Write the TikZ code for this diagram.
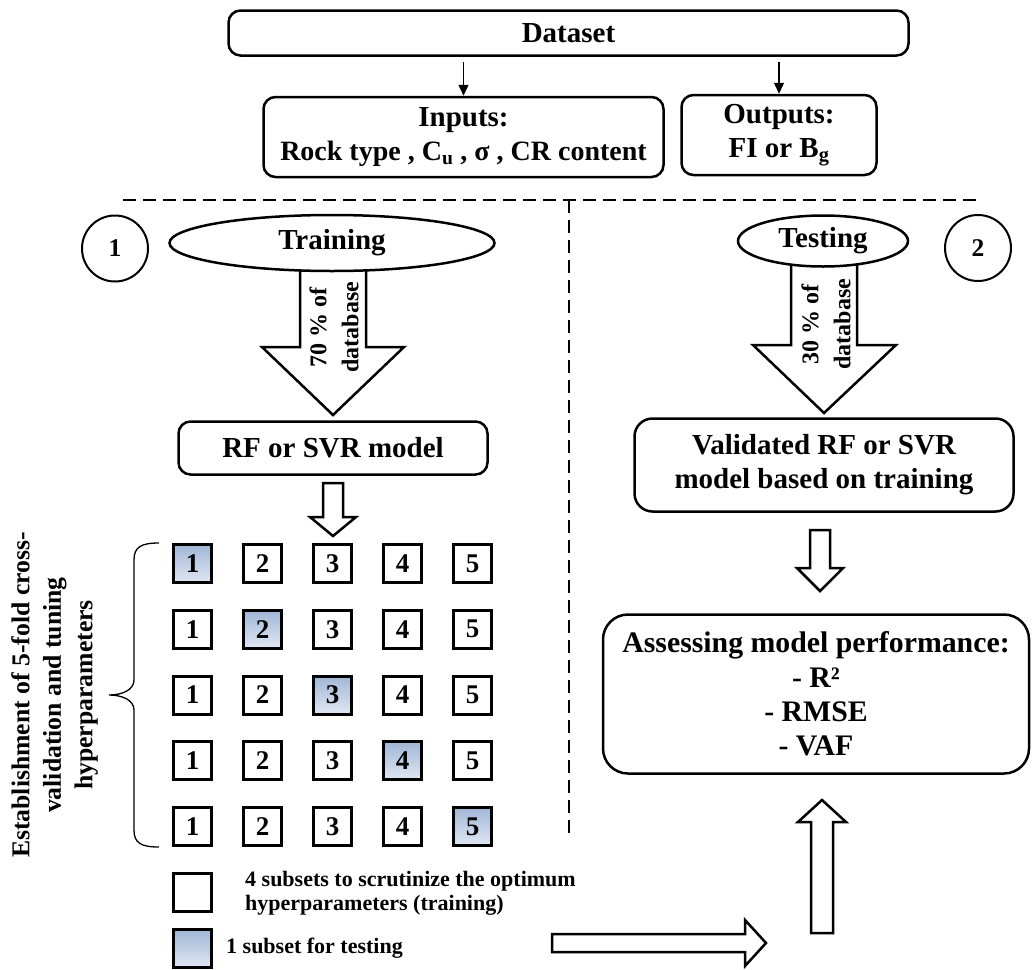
\documentclass[tikz,border=0pt]{standalone}
\usepackage{fontspec}
\setmainfont{Liberation Serif}
\usetikzlibrary{calc,shapes.geometric,arrows.meta}
\newcommand\fmain{\fontsize{29}{34}\selectfont\bfseries}
\newcommand\fassess{\fontsize{29.8}{34.3}\selectfont\bfseries}
\newcommand\fin{\fontsize{28}{33}\selectfont\bfseries}
\newcommand\farr{\fontsize{24}{32}\selectfont\bfseries}
\newcommand\flab{\fontsize{25.7}{31.5}\selectfont\bfseries}
\newcommand\fsq{\fontsize{27}{30}\selectfont\bfseries}
\newcommand\fcirc{\fontsize{25.5}{30}\selectfont\bfseries}
\newcommand\fleg{\fontsize{22}{24}\selectfont\bfseries}
\definecolor{blueT}{RGB}{160,182,214}
\definecolor{blueB}{RGB}{224,231,243}
\begin{document}
\begin{tikzpicture}[x=1pt,y=-1pt,
 box/.style={draw, line width=2.5pt, rounded corners=12pt, align=center, inner sep=0pt, font=\fmain},
 oval/.style={draw, ellipse, line width=2.5pt, fill=white, inner sep=0pt, font=\fmain},
 numcirc/.style={draw, circle, line width=2pt, inner sep=0pt, minimum size=66pt, font=\fcirc},
 sq/.style={draw, line width=3pt, minimum width=38pt, minimum height=38pt, inner sep=0pt, font=\fsq},
 sqb/.style={sq, top color=blueT, bottom color=blueB},
 hollow/.style={draw, line width=2.5pt, fill=white, line join=miter},
 thinarrow/.style={line width=1.3pt, -{Triangle[length=11pt,width=10pt]}},
 divider/.style={line width=1.5pt, dash pattern=on 13pt off 7pt},
 bracestyle/.style={line width=1.3pt},
]
\useasboundingbox (0,0) rectangle (1032,969);

% top
\node[box, minimum width=680pt, minimum height=45pt] (dataset) at (568.5,33) {Dataset};
\node[box, minimum width=400pt, minimum height=80pt] (inputs) at (463.5,137) {Inputs:\\{\fin Rock type , C\textsubscript{u} , σ , CR content}};
\node[box, minimum width=195pt, minimum height=80pt] (outputs) at (779,135) {Outputs:\\FI or B\textsubscript{g}};
\draw[thinarrow] ($(dataset.south -| inputs.north)+(0,5)$) -- (inputs.north);
\draw[thinarrow] ($(dataset.south -| outputs.north)+(0,5)$) -- (outputs.north);

% dividers
\coordinate (hl) at (123,200);
\coordinate (hr) at (982,200);
\coordinate (vt) at (569,200);
\coordinate (vb) at (569,833);
\draw[divider] (hl) -- (hr);
\draw[divider] (vt) -- (vb);

% circles
\node[numcirc] (c1) at (115,248.5) {1};
\node[numcirc] (c2) at (978,248) {2};

% training branch
\draw[hollow] (300,262) -- (300,347) -- (262,347) -- (333,415) -- (404,347) -- (366,347) -- (366,262) -- cycle;
\node[oval, minimum width=325pt, minimum height=56pt] (train) at (332,243) {Training};
\node[rotate=90, align=center, font=\farr, inner sep=0pt] (a1lab) at (334,327) {70 \% of\\database};
\node[box, minimum width=309pt, minimum height=53pt] (rf) at (333,448) {RF or SVR model};
\draw[hollow] (323,483) -- (323,517) -- (310,517) -- (333,536) -- (356,517) -- (343,517) -- (343,483) -- cycle;

% grid of folds
\foreach \r in {1,...,5} {
  \foreach \c in {1,...,5} {
    \pgfmathsetmacro\xx{192.5+70*(\c-1)}
    \pgfmathsetmacro\yy{563.5+65.75*(\r-1)}
    \ifnum\r=\c
      \node[sqb] (s\r\c) at (\xx,\yy) {\c};
    \else
      \node[sq] (s\r\c) at (\xx,\yy) {\c};
    \fi
  }
}

% brace and label
\draw[bracestyle] (159,543) .. controls (141,543) and (134,547) .. (134,560) -- (134,680) .. controls (134,690) and (122,695) .. (109,695) .. controls (122,695) and (134,700) .. (134,710) -- (134,830) .. controls (134,843) and (141,847) .. (159,847);
\node[rotate=90, align=center, font=\flab, inner sep=0pt] (lab) at (54.5,695) {Establishment of 5-fold cross-\\validation and tuning\\hyperparameters};

% legend
\node[sq] (legw) at (192,892.5) {};
\node[sqb] (legb) at (192,948.5) {};
\node[anchor=west, align=left, font=\fleg, inner sep=0pt] (legwt) at (245,893) {4 subsets to scrutinize the optimum\\hyperparameters (training)};
\node[anchor=west, font=\fleg, inner sep=0pt] (legbt) at (226,948) {1 subset for testing};

% testing branch
\draw[hollow] (791,258) -- (791,345) -- (753,345) -- (824,413) -- (896,345) -- (857,345) -- (857,258) -- cycle;
\node[oval, minimum width=170pt, minimum height=51pt] (test) at (823,241) {Testing};
\node[rotate=90, align=center, font=\farr, inner sep=0pt] (a2lab) at (826,324) {30 \% of\\database};
\node[box, rounded corners=18pt, minimum width=379pt, minimum height=93pt] (valid) at (824,465) {Validated RF or SVR\\model based on training};
\draw[hollow] (810,530) -- (810,568) -- (797,568) -- (820,591) -- (843,568) -- (830,568) -- (830,530) -- cycle;
\node[box, rounded corners=25pt, minimum width=426pt, minimum height=159pt, font=\fassess] (assess) at (816,694) {Assessing model performance:\\- R²\\- RMSE\\- VAF};
\draw[hollow] (811,933) -- (811,822) -- (798,822) -- (822,800) -- (846,822) -- (833,822) -- (833,933) -- cycle;
\draw[hollow] (552,934) -- (745,934) -- (745,920) -- (766,943) -- (745,966) -- (745,952) -- (552,952) -- cycle;
\end{tikzpicture}
\end{document}
